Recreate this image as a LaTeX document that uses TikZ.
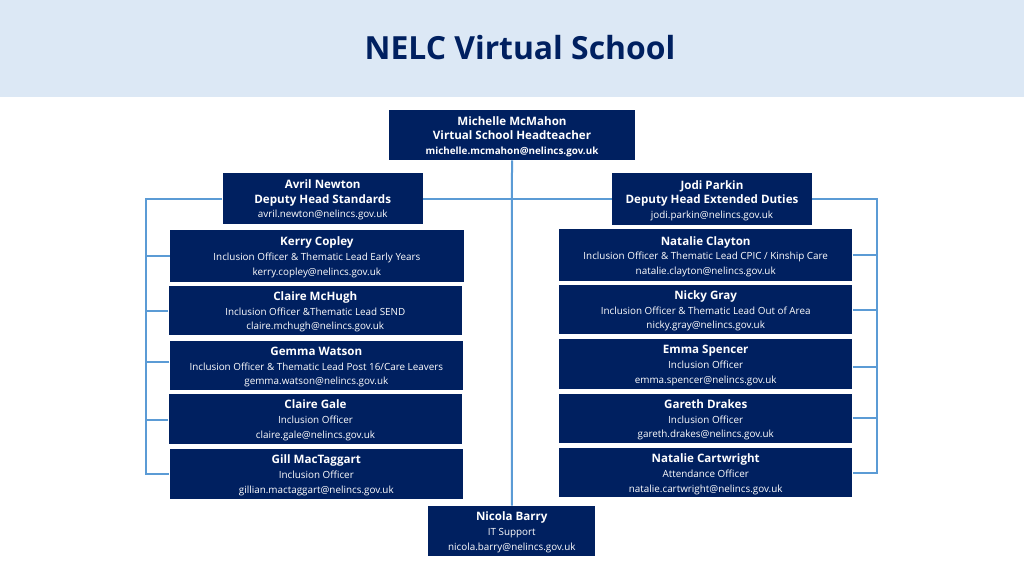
\documentclass[tikz,border=0pt]{standalone}
\usepackage{xcolor}
\usepackage{fontspec}
\usepackage{tikz}
\usetikzlibrary{positioning}
\setmainfont{Open Sans}
\definecolor{navybox}{HTML}{002060}
\definecolor{bandblue}{HTML}{DCE8F5}
\definecolor{linkblue}{HTML}{5B9BD5}
\newcommand{\px}{0.75pt}
\tikzset{
    staffbox/.style={fill=navybox,text=white,align=center,inner sep=0pt,minimum width=293.5*\px,minimum height=49.5*\px,font=\fontsize{7.4}{11}\selectfont},
    buslink/.style={draw=linkblue,line width=1.5pt}
}
\newcommand{\who}[1]{{\rule{0pt}{8.8pt}\fontsize{8.7}{11}\selectfont\bfseries #1}}

\begin{document}
\begin{tikzpicture}[x=0.75pt,y=-0.75pt]
    \useasboundingbox (0,0) rectangle (1024,576);
    % header band
    \node [fill=bandblue,inner sep=0pt,minimum width=1024*\px,minimum height=97*\px] (band) at (512,48.5) {};
    \node [text=navybox,font=\fontsize{23.9}{27}\selectfont\bfseries] (title) at (520,48) {NELC Virtual School};
    % bus positions
    \coordinate (leftbus) at (145.7,198.7);
    \coordinate (rightbus) at (876.7,198.7);
    % top of the tree
    \node [staffbox,minimum width=246*\px,minimum height=50*\px] (head) at (512,135) {\who{Michelle McMahon}\\\who{Virtual School Headteacher}\\{\bfseries michelle.mcmahon@nelincs.gov.uk}};
    \node [staffbox,minimum width=200*\px,minimum height=51.6*\px] (avril) at (322.7,198.5) {\who{Avril Newton}\\\who{Deputy Head Standards}\\avril.newton@nelincs.gov.uk};
    \node [staffbox,minimum width=200*\px,minimum height=52*\px] (jodi) at (712,199.1) {\who{Jodi Parkin}\\\who{Deputy Head Extended Duties}\\jodi.parkin@nelincs.gov.uk};
    \node [staffbox,minimum width=167*\px,minimum height=49.7*\px] (nicola) at (511.8,530.8) {\who{Nicola Barry}\\IT Support\\nicola.barry@nelincs.gov.uk};
    % left column
    \node [staffbox,minimum height=52*\px] (kerry) at (316.9,255.7) {\who{Kerry Copley}\\Inclusion Officer \& Thematic Lead Early Years\\kerry.copley@nelincs.gov.uk};
    \node [staffbox] (mchugh) at (315.3,310.6) {\who{Claire McHugh}\\Inclusion Officer \&Thematic Lead SEND\\claire.mchugh@nelincs.gov.uk};
    \node [staffbox] (gemma) at (316.3,365.5) {\who{Gemma Watson}\\Inclusion Officer \& Thematic Lead Post 16/Care Leavers\\gemma.watson@nelincs.gov.uk};
    \node [staffbox] (gale) at (315.5,418.8) {\who{Claire Gale}\\Inclusion Officer\\claire.gale@nelincs.gov.uk};
    \node [staffbox] (gill) at (316.3,473.8) {\who{Gill MacTaggart}\\Inclusion Officer\\gillian.mactaggart@nelincs.gov.uk};
    % right column
    \node [staffbox,minimum height=52*\px] (clayton) at (705.7,255.2) {\who{Natalie Clayton}\\Inclusion Officer \& Thematic Lead CPIC / Kinship Care\\natalie.clayton@nelincs.gov.uk};
    \node [staffbox] (nicky) at (705.7,309.5) {\who{Nicky Gray}\\Inclusion Officer \& Thematic Lead Out of Area\\nicky.gray@nelincs.gov.uk};
    \node [staffbox] (emma) at (705.7,363.9) {\who{Emma Spencer}\\Inclusion Officer\\emma.spencer@nelincs.gov.uk};
    \node [staffbox] (gareth) at (705.7,418.4) {\who{Gareth Drakes}\\Inclusion Officer\\gareth.drakes@nelincs.gov.uk};
    \node [staffbox] (cartwright) at (705.7,472.7) {\who{Natalie Cartwright}\\Attendance Officer\\natalie.cartwright@nelincs.gov.uk};
    % links
    \draw[buslink] (head.south) -- (nicola.north);
    \draw[buslink] (avril.east) -- (avril.east -| jodi.west);
    \draw[buslink] (avril.west) -| (gill.west -| leftbus) -- (gill.west);
    \draw[buslink] (jodi.east) -| (cartwright.east -| rightbus) -- (cartwright.east);
    \draw[buslink] (kerry.west) -- (kerry.west -| leftbus);
    \draw[buslink] (mchugh.west) -- (mchugh.west -| leftbus);
    \draw[buslink] ([yshift=2.6pt]gemma.west) -- ([yshift=2.6pt]gemma.west -| leftbus);
    \draw[buslink] ([yshift=-1pt]gale.west) -- ([yshift=-1pt]gale.west -| leftbus);
    \draw[buslink] (clayton.east) -- (clayton.east -| rightbus);
    \draw[buslink] (nicky.east) -- (nicky.east -| rightbus);
    \draw[buslink] ([yshift=-2pt]emma.east) -- ([yshift=-2pt]emma.east -| rightbus);
    \draw[buslink] (gareth.east) -- (gareth.east -| rightbus);
\end{tikzpicture}
\end{document}
